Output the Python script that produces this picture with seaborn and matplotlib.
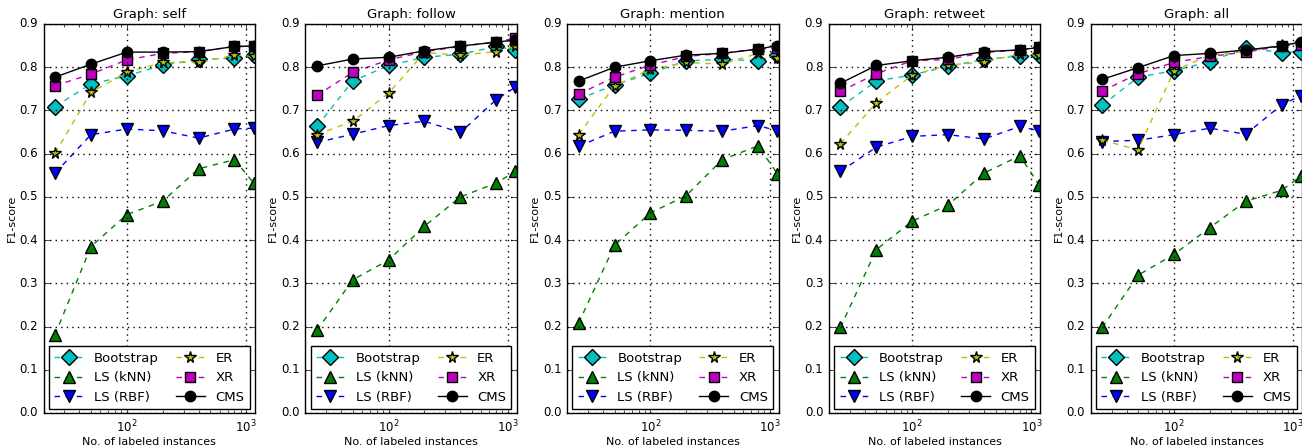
import numpy as np
import matplotlib
matplotlib.use("Agg")
import matplotlib.pyplot as plt
import seaborn as sns

plt.style.use("classic")
plt.rcParams["font.family"] = ["DejaVu Sans"]
plt.rcParams["figure.facecolor"] = "white"
plt.rcParams["savefig.facecolor"] = "white"
plt.rcParams["lines.dashed_pattern"] = [4, 4]

# number of labeled instances
n_labeled = [25, 50, 100, 200, 400, 800, 1160]

graphs = ["self", "follow", "mention", "retweet", "all"]
methods = ["Bootstrap", "LS (kNN)", "LS (RBF)", "ER", "XR", "CMS"]

# F1-scores per graph, one list per method
self_scores = {
    "Bootstrap": [0.709, 0.761, 0.780, 0.805, 0.818, 0.821, 0.828],
    "LS (kNN)": [0.181, 0.385, 0.459, 0.490, 0.565, 0.586, 0.532],
    "LS (RBF)": [0.555, 0.644, 0.657, 0.653, 0.636, 0.657, 0.659],
    "ER": [0.601, 0.742, 0.788, 0.811, 0.811, 0.828, 0.825],
    "XR": [0.757, 0.784, 0.817, 0.832, 0.836, 0.848, 0.848],
    "CMS": [0.777, 0.807, 0.835, 0.835, 0.836, 0.848, 0.849],
}
follow_scores = {
    "Bootstrap": [0.663, 0.768, 0.804, 0.823, 0.830, 0.848, 0.840],
    "LS (kNN)": [0.191, 0.308, 0.354, 0.432, 0.500, 0.532, 0.559],
    "LS (RBF)": [0.626, 0.645, 0.665, 0.675, 0.649, 0.725, 0.754],
    "ER": [0.644, 0.675, 0.740, 0.834, 0.828, 0.836, 0.848],
    "XR": [0.735, 0.788, 0.817, 0.836, 0.848, 0.859, 0.867],
    "CMS": [0.803, 0.819, 0.823, 0.838, 0.849, 0.858, 0.863],
}
mention_scores = {
    "Bootstrap": [0.726, 0.759, 0.786, 0.815, 0.818, 0.815, 0.828],
    "LS (kNN)": [0.208, 0.388, 0.463, 0.503, 0.586, 0.618, 0.554],
    "LS (RBF)": [0.617, 0.652, 0.655, 0.654, 0.652, 0.665, 0.653],
    "ER": [0.644, 0.757, 0.795, 0.811, 0.807, 0.832, 0.821],
    "XR": [0.738, 0.777, 0.805, 0.825, 0.832, 0.842, 0.844],
    "CMS": [0.768, 0.800, 0.815, 0.828, 0.832, 0.842, 0.850],
}
retweet_scores = {
    "Bootstrap": [0.708, 0.768, 0.782, 0.802, 0.818, 0.826, 0.828],
    "LS (kNN)": [0.198, 0.378, 0.444, 0.481, 0.555, 0.595, 0.528],
    "LS (RBF)": [0.559, 0.615, 0.640, 0.644, 0.634, 0.663, 0.653],
    "ER": [0.623, 0.718, 0.782, 0.805, 0.812, 0.831, 0.828],
    "XR": [0.744, 0.785, 0.815, 0.818, 0.834, 0.840, 0.846],
    "CMS": [0.763, 0.804, 0.815, 0.823, 0.836, 0.840, 0.846],
}
all_scores = {
    "Bootstrap": [0.712, 0.777, 0.792, 0.813, 0.845, 0.834, 0.836],
    "LS (kNN)": [0.198, 0.319, 0.367, 0.429, 0.490, 0.515, 0.548],
    "LS (RBF)": [0.628, 0.631, 0.644, 0.659, 0.645, 0.713, 0.734],
    "ER": [0.631, 0.609, 0.792, 0.828, 0.836, 0.852, 0.855],
    "XR": [0.745, 0.785, 0.811, 0.825, 0.835, 0.849, 0.852],
    "CMS": [0.772, 0.799, 0.827, 0.832, 0.840, 0.849, 0.859],
}
scores = [self_scores, follow_scores, mention_scores, retweet_scores, all_scores]

styles = {
    "Bootstrap": dict(color="c", marker="D", linestyle="--", markersize=8),
    "LS (kNN)": dict(color="g", marker="^", linestyle="--", markersize=8),
    "LS (RBF)": dict(color="b", marker="v", linestyle="--", markersize=8),
    "ER": dict(color="y", marker="*", linestyle="--", markersize=8.5),
    "XR": dict(color="m", marker="s", linestyle="--", markersize=7),
    "CMS": dict(color="k", marker="o", linestyle="-", markersize=7.5),
}

W, H = 1302, 447
fig = plt.figure(figsize=(W / 100, H / 100), dpi=100)

for i, g in enumerate(graphs):
    left = 43.5 + i * 261.8
    ax = fig.add_axes([left / W, 1 - 413 / H, 211.5 / W, 389 / H])
    for m in methods:
        st = styles[m]
        sns.lineplot(x=n_labeled, y=scores[i][m], ax=ax, label=m,
                     color=st["color"], marker=st["marker"],
                     linestyle=st["linestyle"], markersize=st["markersize"],
                     markerfacecolor=st["color"], markeredgecolor="k",
                     markeredgewidth=1.0, linewidth=1.0)
    ax.set_xscale("log")
    ax.set_xlim(20, 1190)
    ax.set_ylim(0, 0.9)
    ax.set_yticks(np.arange(0, 0.91, 0.1))
    ax.grid(True, which="major", color="k", linestyle=":", linewidth=1.0)
    ax.tick_params(labelsize=8.5, direction="in")
    ax.set_title(f"Graph: {g}", fontsize=9.5, pad=4)
    ax.set_xlabel("No. of labeled instances", fontsize=8, labelpad=1)
    ax.set_ylabel("F1-score", fontsize=8, labelpad=2)
    handles, labels = ax.get_legend_handles_labels()
    ax.legend(handles, labels,
              loc="lower center", ncol=2, fontsize=9.5, numpoints=1,
              fancybox=False, borderaxespad=0.3, handlelength=2.2,
              columnspacing=1.3, framealpha=1.0)

fig.savefig("out.png", dpi=100)
